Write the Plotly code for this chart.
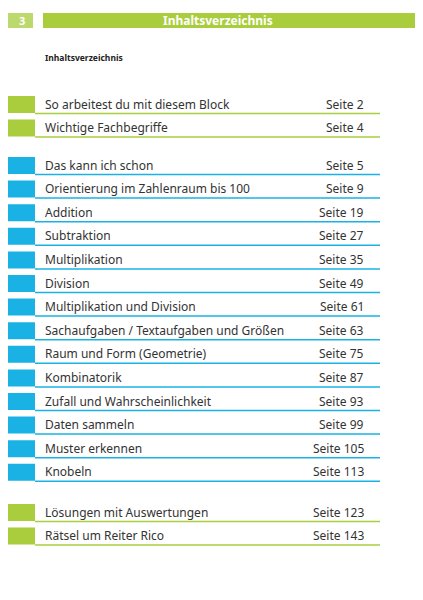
import plotly.graph_objects as go

############# Data #############
top_titles = ['So arbeitest du mit diesem Block', 'Wichtige Fachbegriffe']
top_pages = [2, 4]
main_titles = ['Das kann ich schon', 'Orientierung im Zahlenraum bis 100', 'Addition', 'Subtraktion',
               'Multiplikation', 'Division', 'Multiplikation und Division',
               'Sachaufgaben / Textaufgaben und Größen', 'Raum und Form (Geometrie)', 'Kombinatorik',
               'Zufall und Wahrscheinlichkeit', 'Daten sammeln', 'Muster erkennen', 'Knobeln']
main_pages = [5, 9, 19, 27, 35, 49, 61, 63, 75, 87, 93, 99, 105, 113]
end_titles = ['Lösungen mit Auswertungen', 'Rätsel um Reiter Rico']
end_pages = [123, 143]

GREEN = '#a9cd3c'
BLUE = '#1ab2e4'
FONT = 'Noto Sans'
STEP = 23.6
OFF = 8  # page body margin of the browser

groups = [(top_titles, top_pages, 104, GREEN),
          (main_titles, main_pages, 165, BLUE),
          (end_titles, end_pages, 512, GREEN)]

############# Plotting #############
fig = go.Figure()
shapes = []
annotations = []

# header bar
shapes.append(dict(type='rect', x0=-10, x1=33, y0=13, y1=28, fillcolor='#bcd96e', line_width=0))
shapes.append(dict(type='rect', x0=43, x1=430, y0=13, y1=28, fillcolor=GREEN, line_width=0))
annotations.append(dict(x=22, y=20.5, text='<b>3</b>', font=dict(color='white', size=11, family=FONT),
                        showarrow=False, xanchor='center', yanchor='middle'))
annotations.append(dict(x=218, y=20.5, text='<b>Inhaltsverzeichnis</b>', font=dict(color='white', size=12, family=FONT),
                        showarrow=False, xanchor='center', yanchor='middle'))
annotations.append(dict(x=43, y=57, text='<b>Inhaltsverzeichnis</b>', font=dict(color='#222', size=8.5, family=FONT),
                        showarrow=False, xanchor='left', yanchor='middle'))

for titles, pages, start, color in groups:
    for i, (t, p) in enumerate(zip(titles, pages)):
        c = start + i * STEP
        shapes.append(dict(type='rect', x0=-10, x1=35, y0=c - 8, y1=c + 9, fillcolor=color, line_width=0))
        shapes.append(dict(type='line', x0=35, x1=380, y0=c + 9.5, y1=c + 9.5, line=dict(color=color, width=1.5)))
        annotations.append(dict(x=43, y=c, text=t, font=dict(color='#333', size=12, family=FONT),
                                showarrow=False, xanchor='left', yanchor='middle'))
        annotations.append(dict(x=366, y=c, text=f'Seite {p}', font=dict(color='#333', size=12, family=FONT),
                                showarrow=False, xanchor='right', yanchor='middle'))

fig.update_layout(
    width=423 - OFF, height=600 - OFF,
    margin=dict(l=0, r=0, t=0, b=0),
    paper_bgcolor='white', plot_bgcolor='white',
    xaxis=dict(range=[OFF, 423], visible=False, fixedrange=True),
    yaxis=dict(range=[600, OFF], visible=False, fixedrange=True),
    shapes=shapes, annotations=annotations,
    showlegend=False,
)

fig.write_html("out.html", config={'displayModeBar': False})
